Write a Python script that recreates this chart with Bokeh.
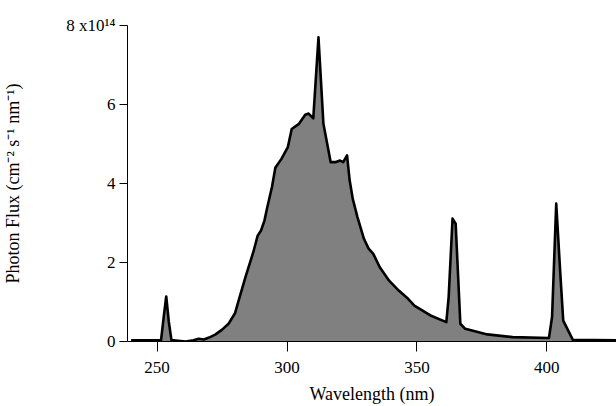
from bokeh.plotting import figure
from bokeh.models import Range1d, FixedTicker, ColumnDataSource
from bokeh.embed import file_html
from bokeh.resources import INLINE

# Data (wavelength in nm, photon flux in units of 1e14)
wavelength = [240, 248, 251.5, 252.5, 253.5, 254.5, 255.5, 258, 261, 264, 266, 268,
              270, 272.5, 275, 277.5, 280, 281, 284, 287, 288.7, 290, 291.3, 292.4,
              294.2, 295.5, 297.9, 300.3, 301.8, 304.6, 307.0, 308.3, 310.1, 312.1,
              314.0, 316.8, 318.6, 320.4, 321.6, 323.1, 324.1, 325.3, 327.1, 329.6,
              331.4, 333.2, 335.7, 339.3, 343.0, 346.6, 349.0, 355.2, 361.3, 362.2,
              363.7, 364.9, 366.7, 368.6, 377.1, 386.8, 400.8, 402.0, 403.6, 405.1,
              406.3, 410.0, 427]
flux = [0.03, 0.03, 0.03, 0.6, 1.14, 0.5, 0.04, 0.02, 0.0, 0.03, 0.07, 0.05,
        0.1, 0.18, 0.3, 0.45, 0.72, 0.95, 1.63, 2.26, 2.68, 2.81, 3.06, 3.40,
        3.91, 4.40, 4.63, 4.92, 5.38, 5.51, 5.74, 5.77, 5.65, 7.70,
        5.51, 4.54, 4.54, 4.58, 4.54, 4.71, 4.08, 3.61, 3.15, 2.60,
        2.35, 2.22, 1.88, 1.54, 1.29, 1.08, 0.91, 0.66, 0.49, 1.12,
        3.11, 2.98, 0.45, 0.32, 0.18, 0.11, 0.09, 0.62, 3.49, 1.80,
        0.53, 0.04, 0.03]
baseline = [0.0] * len(wavelength)

x_ticks = [250, 300, 350, 400]
y_ticks = [0, 2, 4, 6, 8]
y_tick_labels = {0: "0", 2: "2", 4: "4", 6: "6", 8: "8 x10\u00b9\u2074"}

FONT = "Liberation Serif"

src = ColumnDataSource(dict(x=wavelength, y=flux, y0=baseline))

p = figure(width=616, height=406, output_backend="svg", toolbar_location=None,
           x_range=Range1d(238.6, 426.8), y_range=Range1d(0, 8),
           min_border_left=102, min_border_right=0, min_border_top=25,
           min_border_bottom=65)
p.outline_line_color = None
p.grid.visible = False
p.background_fill_color = "white"
p.border_fill_color = "white"

p.varea(x="x", y1="y0", y2="y", source=src, fill_color="#808080")
p.line(x="x", y="y", source=src, line_color="black", line_width=2.6,
       line_join="round")

for ax in (p.xaxis[0], p.yaxis[0]):
    ax.axis_line_color = "black"
    ax.axis_line_width = 1
    ax.major_tick_line_color = "black"
    ax.minor_tick_line_color = None
    ax.major_tick_in = 0
    ax.major_label_text_font = FONT
    ax.major_label_text_font_size = "17px"
    ax.major_label_text_color = "black"
    ax.axis_label_text_font = FONT
    ax.axis_label_text_font_size = "18px"
    ax.axis_label_text_font_style = "normal"
    ax.axis_label_text_color = "black"

p.xaxis.ticker = FixedTicker(ticks=x_ticks)
p.xaxis.major_tick_out = 10
p.xaxis.major_label_standoff = 10
p.xaxis.axis_label = "Wavelength (nm)"
p.xaxis.axis_label_standoff = 8

p.yaxis.ticker = FixedTicker(ticks=y_ticks)
p.yaxis.major_label_overrides = y_tick_labels
p.yaxis.major_tick_out = 8
p.yaxis.major_label_standoff = 4
p.yaxis.axis_label = "Photon Flux (cm\u207b\u00b2 s\u207b\u00b9 nm\u207b\u00b9)"
p.yaxis.axis_label_standoff = 40

open("out.html", "w").write(file_html(p, INLINE))
